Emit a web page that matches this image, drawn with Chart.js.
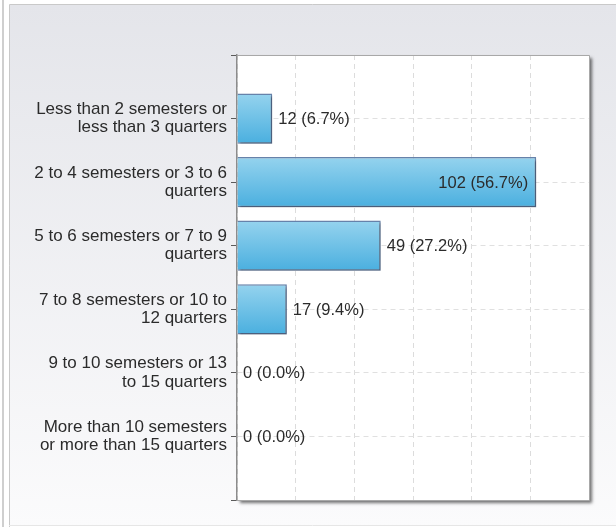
<!DOCTYPE html>
<html>
<head>
<meta charset="utf-8">
<script src="https://cdn.jsdelivr.net/npm/chart.js@4"></script>
<style>
  html, body { margin: 0; padding: 0; background: #fff; }
  canvas { display: block; }
</style>
</head>
<body>
<canvas id="chart" width="616" height="527"></canvas>
<script>
// answer options, each split in two lines like the original
const categories = [
	['Less than 2 semesters or', 'less than 3 quarters'],
	['2 to 4 semesters or 3 to 6', 'quarters'],
	['5 to 6 semesters or 7 to 9', 'quarters'],
	['7 to 8 semesters or 10 to', '12 quarters'],
	['9 to 10 semesters or 13', 'to 15 quarters'],
	['More than 10 semesters', 'or more than 15 quarters'],
];
const counts = [12, 102, 49, 17, 0, 0];
const xTicks = [0, 20, 40, 60, 80, 100, 120];

const total = counts.reduce((a, b) => a + b, 0);
const FAMILY = '"Liberation Sans", Arial, sans-serif';
const LABEL_FONT = { family: FAMILY, size: 17, lineHeight: 1.07 };
const VALUE_SIZE = 16.5;
const BAR_PCT = 0.79;

// panel background and white plot box with its drop shadow
const backdrop = {
	id: 'backdrop',
	beforeDraw(chart) {
		const { ctx, width, height, chartArea: a } = chart;
		ctx.save();
		ctx.fillStyle = '#fff';
		ctx.fillRect(0, 0, width, height);
		ctx.fillStyle = '#cfcfcf';
		ctx.fillRect(2, 0, 2, height);
		const g = ctx.createLinearGradient(0, 5, 0, height);
		g.addColorStop(0, '#e4e5ea');
		g.addColorStop(1, '#fbfbfc');
		ctx.fillStyle = g;
		ctx.fillRect(9, 5, width - 9, height - 7);
		ctx.strokeStyle = '#c9c9c9';
		ctx.lineWidth = 1;
		ctx.beginPath();
		ctx.moveTo(9.5, height);
		ctx.lineTo(9.5, 4.5);
		ctx.lineTo(width, 4.5);
		ctx.stroke();
		ctx.strokeStyle = '#e6e6e6';
		ctx.beginPath();
		ctx.moveTo(9, height - 1.5);
		ctx.lineTo(width, height - 1.5);
		ctx.stroke();

		ctx.shadowColor = 'rgba(0,0,0,0.55)';
		ctx.shadowOffsetX = 3;
		ctx.shadowOffsetY = 3;
		ctx.shadowBlur = 3;
		ctx.fillStyle = '#fff';
		ctx.fillRect(a.left, a.top, a.right - a.left, a.bottom - a.top);
		ctx.restore();
	},
	afterDraw(chart) {
		const { ctx, chartArea: a } = chart;
		ctx.save();
		ctx.strokeStyle = '#a8a8a8';
		ctx.lineWidth = 1;
		ctx.beginPath();
		ctx.moveTo(a.left, a.top + 0.5);
		ctx.lineTo(a.right + 0.5, a.top + 0.5);
		ctx.lineTo(a.right + 0.5, a.bottom + 0.5);
		ctx.lineTo(a.left, a.bottom + 0.5);
		ctx.stroke();
		ctx.restore();
	},
	beforeDatasetsDraw(chart) {
		const { ctx } = chart;
		ctx.save();
		ctx.shadowColor = 'rgba(0,0,0,0.3)';
		ctx.shadowOffsetX = 2;
		ctx.shadowOffsetY = 2;
		ctx.shadowBlur = 2;
	},
	afterDatasetsDraw(chart) {
		const { ctx } = chart;
		ctx.restore();
		// value labels "n (p%)"
		ctx.save();
		ctx.font = `${VALUE_SIZE}px ${FAMILY}`;
		ctx.fillStyle = '#2b2b2b';
		ctx.textBaseline = 'middle';
		const meta = chart.getDatasetMeta(0);
		meta.data.forEach((bar, i) => {
			const text = `${counts[i]} (${(counts[i] / total * 100).toFixed(1)}%)`;
			const w = ctx.measureText(text).width;
			if (bar.x + 6 + w > chart.chartArea.right) {
				ctx.textAlign = 'right';
				ctx.fillText(text, bar.x - 8, bar.y + 1);
			} else {
				ctx.textAlign = 'left';
				ctx.fillText(text, bar.x + 6, bar.y + 1);
			}
		});
		ctx.restore();
	},
};

const barGradient = (c) => {
	const { chart, dataIndex } = c;
	if (!chart.chartArea) return '#6cc1e7';
	const y = chart.scales.y;
	const cy = y.getPixelForValue(dataIndex);
	const h = Math.abs(y.getPixelForValue(1) - y.getPixelForValue(0)) * BAR_PCT;
	const g = chart.ctx.createLinearGradient(0, cy - h / 2, 0, cy + h / 2);
	g.addColorStop(0, '#95d3ee');
	g.addColorStop(1, '#4aafdf');
	return g;
};

new Chart(document.getElementById('chart'), {
	type: 'bar',
	data: {
		datasets: [
			{
				data: counts.map((v, i) => ({ x: v, y: i })),
				backgroundColor: barGradient,
				borderColor: '#6682aa',
				borderWidth: 1.5,
				borderSkipped: 'left',
				categoryPercentage: 1,
				barPercentage: BAR_PCT,
			},
		],
	},
	plugins: [backdrop],
	options: {
		indexAxis: 'y',
		responsive: false,
		animation: false,
		layout: { padding: { left: 0, right: 27, top: 55, bottom: 27 } },
		plugins: {
			legend: { display: false },
			tooltip: { enabled: false },
		},
		scales: {
			x: {
				type: 'linear',
				min: xTicks[0],
				max: xTicks[xTicks.length - 1],
				afterBuildTicks: (scale) => {
					scale.ticks = xTicks.map((v) => ({ value: v }));
				},
				ticks: { display: false },
				grid: { color: '#dcdcdc', drawTicks: false },
				border: { display: false, dash: [5, 4] },
				afterFit: (scale) => {
					scale.height = 0;
				},
			},
			y: {
				type: 'linear',
				reverse: true,
				offset: false,
				min: -1,
				max: categories.length,
				afterBuildTicks: (scale) => {
					const t = [];
					for (let v = -1; v <= categories.length; v++) t.push({ value: v });
					scale.ticks = t;
				},
				ticks: {
					autoSkip: false,
					color: '#2b2b2b',
					font: LABEL_FONT,
					padding: 4,
					callback: (v) => categories[v] || '',
				},
				grid: {
					offset: false,
					color: '#e0e0e0',
					tickColor: '#5a5a5a',
					tickBorderDash: [],
					tickLength: 6,
				},
				border: { color: '#8c8c8c', width: 1.5, dash: [5, 4] },
				afterFit: (scale) => {
					scale.width = 237;
				},
			},
		},
	},
});
</script>
</body>
</html>
